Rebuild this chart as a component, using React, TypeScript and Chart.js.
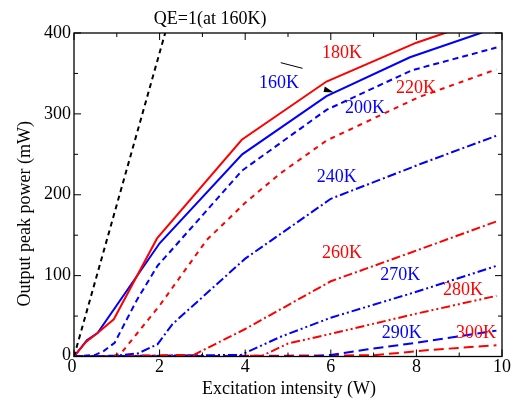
import React, { useEffect, useRef } from 'react';
import { Chart, registerables } from 'chart.js';

Chart.register(...registerables);

// Axis ticks
const X_TICKS = [0, 2, 4, 6, 8, 10];
const X_MINOR = [1, 3, 5, 7, 9];
const Y_TICKS = [0, 100, 200, 300, 400];
const Y_MINOR = [50, 150, 250, 350];

// Series (Excitation intensity W -> Output peak power mW)
const QE_X = [0, 2.13];
const QE_Y = [0, 400];
const K160_X = [0, 0.3, 0.55, 2, 3.93, 5.9, 7.85, 9.5, 10];
const K160_Y = [0, 20, 29, 140, 250, 322, 370, 400, 412];
const K180_X = [0, 0.28, 0.55, 0.93, 1.94, 3.92, 5.9, 8.0, 10];
const K180_Y = [0, 18, 29, 46, 146, 268, 340, 388, 424];
const K200_X = [0, 0.5, 0.7, 0.95, 1.47, 1.95, 3.93, 5.9, 7.9, 9.87];
const K200_Y = [0, 2, 7, 17, 70, 112, 230, 305, 354, 382];
const K220_X = [0, 0.9, 1.1, 2, 3.1, 4, 4.81, 5.9, 8.07, 9.87];
const K220_Y = [0, 0, 4, 63, 144, 190, 226, 267, 321, 355];
const K240_X = [0, 1, 1.5, 1.95, 2.3, 4, 6, 8.14, 9.87];
const K240_Y = [0, 1, 4, 15, 40, 121, 195, 239, 273];
const K260_X = [0, 2.8, 4, 6, 8, 9.87];
const K260_Y = [0, 2, 34, 93, 131, 167];
const K270_X = [0, 3.9, 4.81, 6, 8, 9.87];
const K270_Y = [0, 2, 24, 48, 80, 112];
const K280_X = [0, 4.4, 5, 6, 8, 9.87];
const K280_Y = [0, 1, 16, 28, 53, 75];
const K290_X = [0, 5.5, 6, 6.87, 8, 9.87];
const K290_Y = [0, 0, 2, 9, 17, 32];
const K300_X = [0, 7, 8.3, 9.87];
const K300_Y = [0, 1.5, 8, 14];

// Curve labels
const LABEL_TEXT = ['180K', '160K', '200K', '220K', '240K', '260K', '270K', '280K', '290K', '300K'];
const LABEL_X = [6.26, 4.79, 6.8, 7.99, 6.14, 6.26, 7.62, 9.09, 7.66, 9.39];
const LABEL_Y = [375, 338, 307, 332, 222, 128, 101, 82, 29, 29];

const RED = '#ff0000';
const BLUE = '#0000ff';
const LABEL_COLOR = [RED, BLUE, BLUE, RED, BLUE, RED, BLUE, RED, BLUE, RED];

const FONT = '18px "Liberation Serif", "Times New Roman", serif';

const pts = (xs: number[], ys: number[]) => xs.map((x, i) => ({ x, y: ys[i] }));

const ds = (label: string, xs: number[], ys: number[], color: string, dash: number[]) => ({
  label,
  data: pts(xs, ys),
  borderColor: color,
  backgroundColor: color,
  borderWidth: 2,
  borderDash: dash,
  pointRadius: 0,
  tension: 0,
  fill: false,
});

const decorPlugin = {
  id: 'decor',
  afterDraw(chart: any) {
    const { ctx, chartArea: a, scales } = chart;
    const xs = scales.x;
    const ys = scales.y;
    ctx.save();
    ctx.setLineDash([]);
    ctx.strokeStyle = '#000';
    ctx.lineWidth = 1.3;
    ctx.strokeRect(a.left, a.top, a.right - a.left, a.bottom - a.top);
    ctx.lineWidth = 1;
    const tick = (x1: number, y1: number, x2: number, y2: number) => {
      ctx.beginPath();
      ctx.moveTo(x1, y1);
      ctx.lineTo(x2, y2);
      ctx.stroke();
    };
    X_TICKS.forEach((v) => {
      const p = xs.getPixelForValue(v);
      tick(p, a.bottom, p, a.bottom - 7);
      tick(p, a.top, p, a.top + 7);
    });
    X_MINOR.forEach((v) => {
      const p = xs.getPixelForValue(v);
      tick(p, a.bottom, p, a.bottom - 4);
      tick(p, a.top, p, a.top + 4);
    });
    Y_TICKS.forEach((v) => {
      const p = ys.getPixelForValue(v);
      tick(a.left, p, a.left + 7, p);
      tick(a.right, p, a.right - 7, p);
    });
    Y_MINOR.forEach((v) => {
      const p = ys.getPixelForValue(v);
      tick(a.left, p, a.left + 4, p);
      tick(a.right, p, a.right - 4, p);
    });

    ctx.font = FONT;
    ctx.fillStyle = '#000';
    ctx.textAlign = 'center';
    ctx.textBaseline = 'middle';
    X_TICKS.forEach((v) => {
      ctx.fillText(String(v), xs.getPixelForValue(v) - (v === 0 ? 2 : 0), a.bottom + 11);
    });
    ctx.textAlign = 'right';
    Y_TICKS.forEach((v) => {
      ctx.fillText(String(v), a.left - 3, ys.getPixelForValue(v) - (v === 0 ? 1.5 : 0));
    });
    ctx.textAlign = 'center';
    ctx.fillText('Excitation intensity (W)', (a.left + a.right) / 2 + 1, a.bottom + 33);
    ctx.save();
    ctx.translate(25, (a.top + a.bottom) / 2 + 19);
    ctx.rotate(-Math.PI / 2);
    ctx.fillText('Output peak power (mW)', 0, 0);
    ctx.restore();

    // QE=1 label above plot
    ctx.fillText('QE=1(at 160K)', xs.getPixelForValue(3.18), ys.getPixelForValue(417));

    // curve labels
    LABEL_TEXT.forEach((t, i) => {
      ctx.fillStyle = LABEL_COLOR[i];
      ctx.fillText(t, xs.getPixelForValue(LABEL_X[i]), ys.getPixelForValue(LABEL_Y[i]));
    });

    // arrow pointer
    ctx.strokeStyle = '#000';
    ctx.lineWidth = 1;
    tick(xs.getPixelForValue(4.83), ys.getPixelForValue(363.3), xs.getPixelForValue(5.34), ys.getPixelForValue(356.3));
    ctx.fillStyle = '#000';
    ctx.beginPath();
    ctx.moveTo(xs.getPixelForValue(5.86), ys.getPixelForValue(334));
    ctx.lineTo(xs.getPixelForValue(5.83), ys.getPixelForValue(327));
    ctx.lineTo(xs.getPixelForValue(6.07), ys.getPixelForValue(326.4));
    ctx.closePath();
    ctx.fill();
    ctx.restore();
  },
};

export default function App() {
  const ref = useRef<HTMLCanvasElement | null>(null);
  useEffect(() => {
    if (!ref.current) return;
    const chart = new Chart(ref.current, {
      type: 'line',
      data: {
        datasets: [
          ds('QE=1', QE_X, QE_Y, '#000000', [5, 4]),
          ds('180K', K180_X, K180_Y, RED, []),
          ds('160K', K160_X, K160_Y, BLUE, []),
          ds('200K', K200_X, K200_Y, BLUE, [6, 4]),
          ds('220K', K220_X, K220_Y, RED, [5, 5]),
          ds('240K', K240_X, K240_Y, BLUE, [9, 3, 2, 3]),
          ds('260K', K260_X, K260_Y, RED, [9, 3, 2, 3]),
          ds('270K', K270_X, K270_Y, BLUE, [9, 3, 2, 3, 2, 3]),
          ds('280K', K280_X, K280_Y, RED, [9, 3, 2, 3, 2, 3]),
          ds('290K', K290_X, K290_Y, BLUE, [10, 5]),
          ds('300K', K300_X, K300_Y, RED, [10, 5]),
        ],
      },
      options: {
        responsive: false,
        animation: false,
        devicePixelRatio: 1,
        layout: { padding: { left: 74, right: 14, top: 33, bottom: 43.5 } },
        plugins: { legend: { display: false }, tooltip: { enabled: false } },
        scales: {
          x: { type: 'linear', min: 0, max: 10, display: false },
          y: { type: 'linear', min: 0, max: 400, display: false },
        },
      },
      plugins: [decorPlugin],
    });
    return () => chart.destroy();
  }, []);
  return (
    <div style={{ position: 'fixed', left: 0, top: 0, width: 516, height: 400, background: '#fff' }}>
      <canvas ref={ref} width={516} height={400} />
    </div>
  );
}
